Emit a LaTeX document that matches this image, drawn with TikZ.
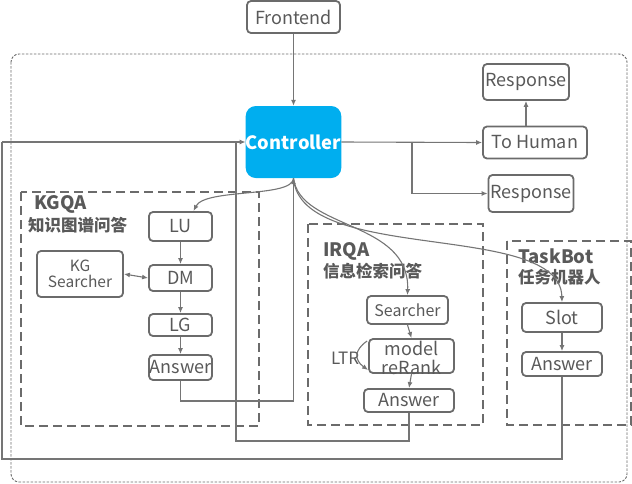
\documentclass[tikz,border=0pt]{standalone}
\usepackage{fontspec}
\setmainfont{Noto Sans CJK SC}
\usetikzlibrary{arrows.meta,calc}
\definecolor{bc}{HTML}{6B6B6B}
\definecolor{tc}{HTML}{595959}
\definecolor{lc}{HTML}{757575}
\definecolor{ctrlblue}{HTML}{00AEEF}
\tikzset{
  box/.style={draw=bc, line width=1.8pt, rounded corners=4pt, text=tc, inner sep=0pt, font=\fontsize{18}{19}\selectfont},
  grp/.style={draw=bc, line width=2.2pt, dash pattern=on 9pt off 5pt},
  arr/.style={draw=lc, line width=1.1pt, -{Latex[length=6pt,width=5pt]}},
  ln/.style={draw=lc, line width=1.1pt},
  ttl/.style={text=tc, anchor=west, inner sep=0pt, font=\bfseries\fontsize{18.5}{20}\selectfont},
  cn/.style={text=tc, anchor=west, inner sep=0pt, font=\bfseries\fontsize{16.5}{18}\selectfont},
}
\begin{document}
\begin{tikzpicture}[x=1pt,y=-1pt]
\useasboundingbox (0,0) rectangle (632,483);
% outer dotted frame
\draw[draw=bc, line width=0.9pt, dash pattern=on 2.5pt off 1.5pt, rounded corners=8pt] (11,54) rectangle (627,482);
% groups
\draw[grp] (21,192) rectangle (259,426);
\draw[grp] (308,224) rectangle (483,425);
\draw[grp] (507,241) rectangle (631,425);
\node[ttl] (kgqa) at (34,204) {KGQA};
\node[cn] (kgqacn) at (28,225) {知识图谱问答};
\node[ttl] (irqa) at (323,251) {IRQA};
\node[cn] (irqacn) at (323,271) {信息检索问答};
\node[ttl] (tb) at (518,256) {TaskBot};
\node[cn] (tbcn) at (518,277) {任务机器人};
% nodes
\node[box, minimum width=93pt, minimum height=32pt] (fe) at (293.5,17) {Frontend};
\node[fill=ctrlblue, rounded corners=10pt, minimum width=93pt, minimum height=72pt, inner sep=0pt, text=white, font=\bfseries\fontsize{18.3}{20}\selectfont] (ctrl) at (293.5,142) {Controller};
\node[box, minimum width=86pt, minimum height=36pt] (resp1) at (526,82) {Response};
\node[box, minimum width=104pt, minimum height=32pt] (human) at (535,142.5) {To Human};
\node[box, minimum width=85pt, minimum height=37pt] (resp2) at (531,193.5) {Response};
\node[box, minimum width=63pt, minimum height=29pt] (lu) at (180.5,226.5) {LU};
\node[box, minimum width=63pt, minimum height=26pt] (dm) at (180.5,278) {DM};
\node[box, minimum width=63pt, minimum height=22pt] (lg) at (180.5,325) {LG};
\node[box, minimum width=63pt, minimum height=25pt] (kgans) at (180.5,367.5) {Answer};
\node[box, minimum width=86pt, minimum height=46pt, align=center, font=\fontsize{15.5}{16.5}\selectfont] (kgs) at (80,274) {KG\\Searcher};
\node[box, minimum width=81pt, minimum height=28pt, font=\fontsize{16}{18}\selectfont] (srch) at (407.5,310) {Searcher};
\node[box, minimum width=85pt, minimum height=34pt] (rerank) at (411.5,356) {};
\node[text=tc, inner sep=0pt, align=center, font=\fontsize{18}{19}\selectfont] (reranktxt) at (411.5,357.5) {model\\reRank};
\node[box, minimum width=90pt, minimum height=23pt] (irans) at (409,400.5) {Answer};
\node[box, minimum width=80pt, minimum height=29pt] (slot) at (562,317.5) {Slot};
\node[box, minimum width=80pt, minimum height=24pt] (tbans) at (562,364) {Answer};
\node[text=tc, inner sep=0pt, anchor=west, font=\fontsize{17}{18}\selectfont] (ltr) at (331,358) {LTR};
% connectors
\draw[arr] (fe.south) -- (ctrl.north);
\draw[arr] (ctrl.east) -- (human.west);
\coordinate (br) at (412,142);
\draw[arr] (br) |- (resp2.west);
\draw[arr] (resp1.south |- human.north) -- (resp1.south);
\draw[arr] (lu.south) -- (dm.north);
\draw[arr] (dm.south) -- (lg.north);
\draw[arr] (lg.south) -- (kgans.north);
\draw[draw=lc, line width=1.1pt, {Latex[length=6pt,width=5pt]}-{Latex[length=6pt,width=5pt]}] (kgs.east) -- (dm.west);
\draw[arr] (srch.south) -- (rerank.north);
\draw[arr] (rerank.south) -- (irans.north);
\draw[arr] (slot.south) -- (tbans.north);
\draw[arr] ($(rerank.west)+(-1,-15)$) .. controls ($(rerank.west)+(-14,-6)$) and ($(rerank.west)+(-14,4)$) .. ($(rerank.west)+(0,14)$);
% curves from controller
\draw[arr] (ctrl.south) .. controls (293,198) and (205,188) .. ([xshift=13pt]lu.north);
\draw[arr] (ctrl.south) .. controls (300,230) and (410,220) .. (srch.north);
\draw[arr] (ctrl.south) .. controls (300,265) and (560,220) .. (slot.north);
% returns
\coordinate (kgt) at (293.5,401);
\draw[arr] (kgans.south) |- (kgt) -- (ctrl.south);
\coordinate (irt) at (236,441);
\coordinate (irtop) at (236,142);
\draw[ln] (irans.south) |- (irt) -- (irtop);
\coordinate (tbt) at (2,459);
\coordinate (tbtop) at (2,142);
\draw[ln] (tbans.south) |- (tbt) -- (tbtop);
\draw[arr] (tbtop) -- (ctrl.west);
\end{tikzpicture}
\end{document}
